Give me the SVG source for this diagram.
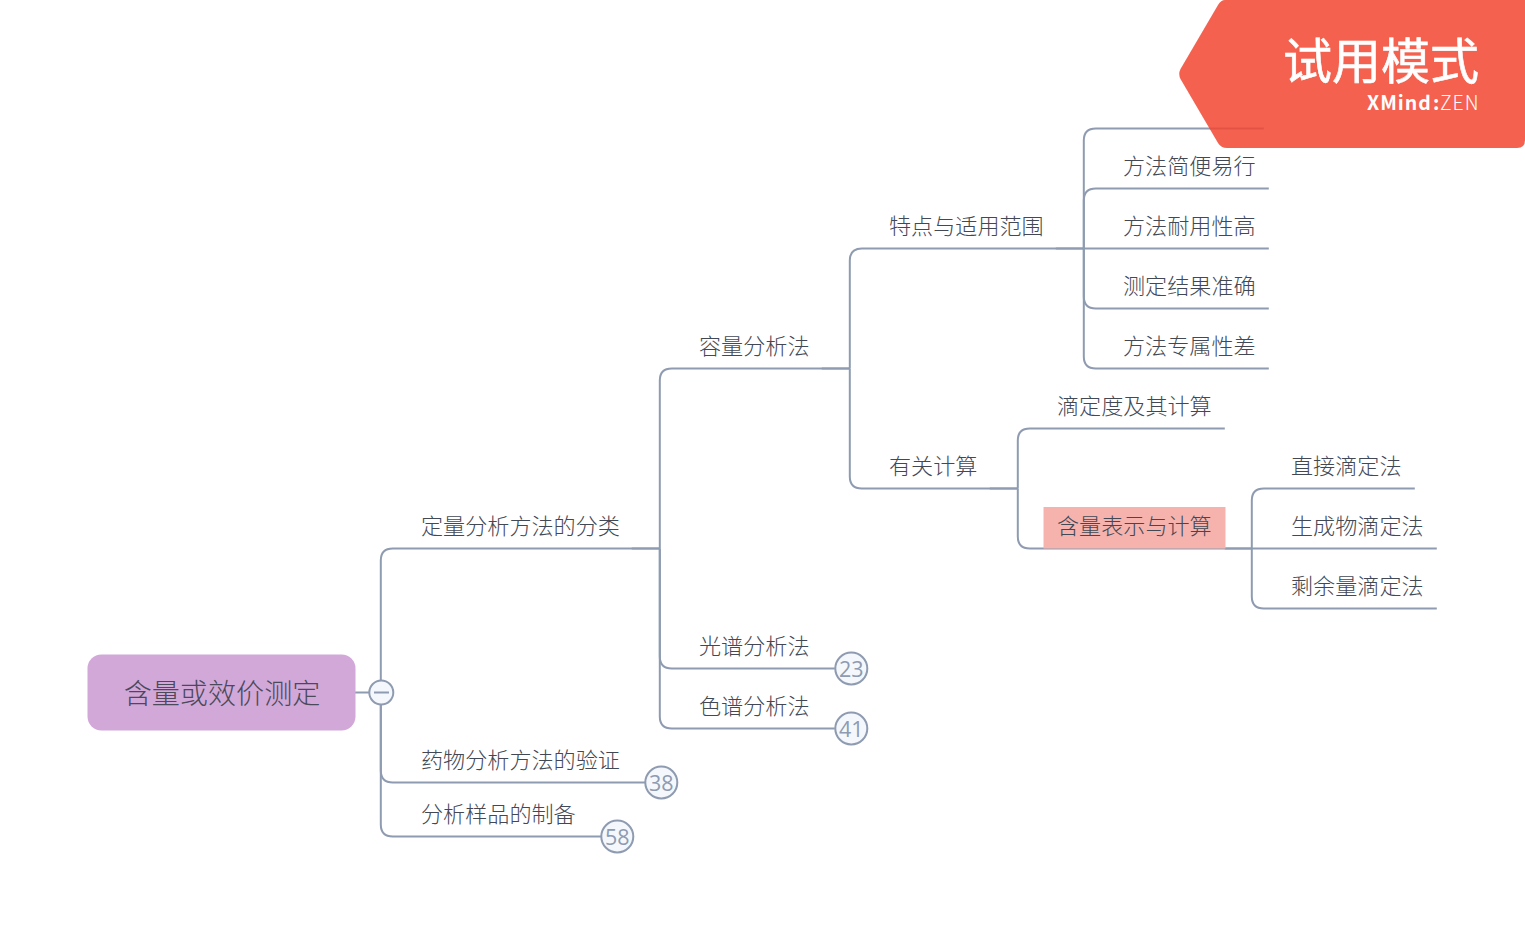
<svg xmlns="http://www.w3.org/2000/svg" width="1525" height="925" viewBox="0 0 1525 925">
<style>
text{font-family:"Noto Sans CJK SC","Noto Sans",sans-serif;}
.t{font-size:22.1px;fill:#424854;font-weight:300;}
.l{fill:none;stroke:#8e9bb0;stroke-width:2;}
.c{fill:#f4f8fd;stroke:#8e9bb0;stroke-width:2;}
.n{font-size:21.5px;fill:#8e9bb0;text-anchor:middle;font-family:"Open Sans",sans-serif;font-weight:400;}
</style>
<rect width="1525" height="925" fill="#fff"/>
<g id="connectors" transform="translate(-0.2 0.5)">
<path class="l" d="M355 692H381"/>
<path class="l" d="M381 692V560Q381 548 393 548H660"/>
<path class="l" d="M381 692V770Q381 782 393 782H646"/>
<path class="l" d="M381 692V824Q381 836 393 836H602"/>
<path class="l" d="M632 548H660"/>
<path class="l" d="M660 548V380Q660 368 672 368H850"/>
<path class="l" d="M660 548V656Q660 668 672 668H835"/>
<path class="l" d="M660 548V716Q660 728 672 728H835"/>
<path class="l" d="M822 368H850"/>
<path class="l" d="M850 368V260Q850 248 862 248H1084"/>
<path class="l" d="M850 368V476Q850 488 862 488H1018"/>
<path class="l" d="M1056 248H1084"/>
<path class="l" d="M1084 248V140Q1084 128 1096 128H1264"/>
<path class="l" d="M1084 248V200Q1084 188 1096 188H1269"/>
<path class="l" d="M1084 248H1269"/>
<path class="l" d="M1084 248V296Q1084 308 1096 308H1269"/>
<path class="l" d="M1084 248V356Q1084 368 1096 368H1269"/>
<path class="l" d="M990 488H1018"/>
<path class="l" d="M1018 488V440Q1018 428 1030 428H1225"/>
<path class="l" d="M1018 488V536Q1018 548 1030 548H1252"/>
<path class="l" d="M1225 548H1252"/>
<path class="l" d="M1252 548V500Q1252 488 1264 488H1415"/>
<path class="l" d="M1252 548H1437"/>
<path class="l" d="M1252 548V596Q1252 608 1264 608H1437"/>
</g>
<g id="root">
<rect x="87.5" y="654.5" width="268" height="76" rx="14" fill="#d2a8d9"/>
<text x="222" y="704" font-size="28.1" fill="#4a4a5a" font-weight="300" text-anchor="middle">含量或效价测定</text>
</g>
<g id="collapse"><circle class="c" cx="381.3" cy="692.5" r="12"/><path class="l" d="M374 692.5H389"/></g>
<g id="n1"><text class="t" x="421" y="534">定量分析方法的分类</text></g>
<g id="n2"><text class="t" x="421" y="768">药物分析方法的验证</text><circle class="c" cx="661.3" cy="782.5" r="16"/><text class="n" x="661.3" y="790.5">38</text></g>
<g id="n3"><text class="t" x="421" y="822">分析样品的制备</text><circle class="c" cx="617.3" cy="836.5" r="16"/><text class="n" x="617.3" y="844.5">58</text></g>
<g id="n4"><text class="t" x="699" y="354">容量分析法</text></g>
<g id="n5"><text class="t" x="699" y="654">光谱分析法</text><circle class="c" cx="851.3" cy="668.5" r="16"/><text class="n" x="851.3" y="676.5">23</text></g>
<g id="n6"><text class="t" x="699" y="714">色谱分析法</text><circle class="c" cx="851.3" cy="728.5" r="16"/><text class="n" x="851.3" y="736.5">41</text></g>
<g id="n7"><text class="t" x="889" y="234">特点与适用范围</text></g>
<g id="n8"><text class="t" x="889" y="474">有关计算</text></g>
<g id="n9"><text class="t" x="1123" y="174">方法简便易行</text></g>
<g id="n10"><text class="t" x="1123" y="234">方法耐用性高</text></g>
<g id="n11"><text class="t" x="1123" y="294">测定结果准确</text></g>
<g id="n12"><text class="t" x="1123" y="354">方法专属性差</text></g>
<g id="n13"><text class="t" x="1057" y="414">滴定度及其计算</text></g>
<g id="n14"><rect x="1043.5" y="507" width="182" height="41.5" fill="#f6b3ae"/><text class="t" x="1057" y="534">含量表示与计算</text></g>
<g id="n15"><text class="t" x="1291" y="474">直接滴定法</text></g>
<g id="n16"><text class="t" x="1291" y="534">生成物滴定法</text></g>
<g id="n17"><text class="t" x="1291" y="594">剩余量滴定法</text></g>
<g id="watermark">
<path d="M1225 0H1525V140Q1525 148 1517 148H1227Q1221 148 1218 143L1180.5 79Q1178 74 1180.5 69L1218 5Q1221 0 1225 0Z" fill="#f24530" fill-opacity=".85"/>
<text x="1479" y="79" font-size="49" fill="#fff" stroke="#fff" stroke-width=".6" text-anchor="end" font-weight="400">试用模式</text>
<text y="110" font-size="19.5" fill="#fff" font-family="Inter,sans-serif"><tspan x="1367" font-weight="700" letter-spacing="1">XMind</tspan><tspan x="1433" font-weight="700">:</tspan><tspan x="1440" font-weight="200" letter-spacing="1">ZEN</tspan></text>
</g>
</svg>
